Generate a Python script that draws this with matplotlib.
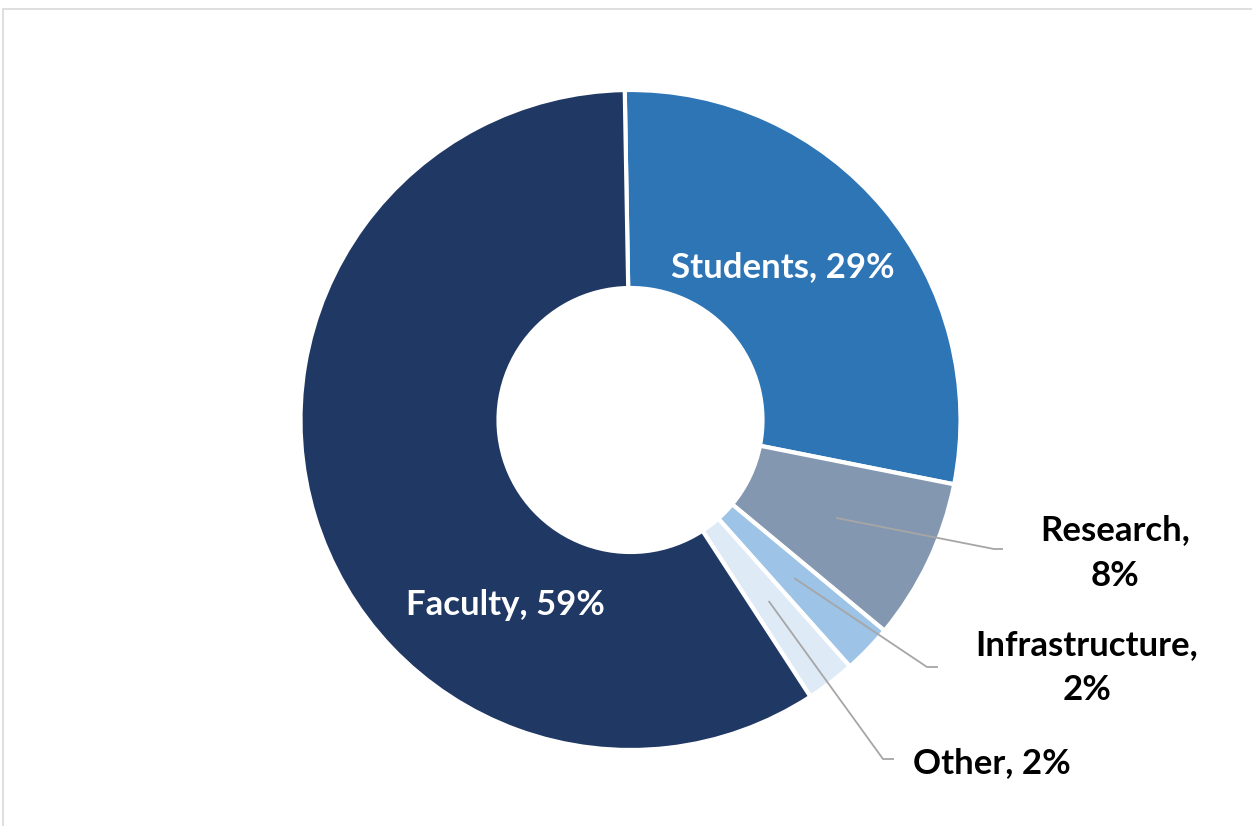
import matplotlib.pyplot as plt
import matplotlib.patches as mpatches
import numpy as np

# ---- data ----
categories = ['Students', 'Research', 'Infrastructure', 'Other', 'Faculty']
shares = [28.4, 7.9, 2.4, 2.4, 58.9]
pct_labels = ['29%', '8%', '2%', '2%', '59%']
colors = ['#2E75B6', '#8497B0', '#9DC3E6', '#DEEBF7', '#203864']

W, H = 1252, 826
fig = plt.figure(figsize=(W / 100, H / 100), dpi=100)
ax = fig.add_axes([0, 0, 1, 1])

# light gray chart frame (runs off right / bottom edge)
fig.patches.append(mpatches.Rectangle((3 / W, -0.05), 1.1, 1 - 9 / H + 0.05,
                                      transform=fig.transFigure, fill=False,
                                      edgecolor='#D9D9D9', linewidth=1.2))

cx, cy, R = 630.5, H - 420, 330
wedges, _ = ax.pie(shares, colors=colors, startangle=91, counterclock=False,
                   radius=R, center=(cx, cy),
                   wedgeprops=dict(width=R * 0.6, edgecolor='white', linewidth=3))

# pie() resets the limits, so set the pixel-like frame afterwards
ax.set_xlim(0, W)
ax.set_ylim(0, H)
ax.set_aspect('equal')
ax.axis('off')

font = dict(family=['Lato', 'DejaVu Sans'], fontweight='bold', fontsize=25)

# inside labels
ax.text(783, H - 267, f'{categories[0]}, {pct_labels[0]}', color='white',
        ha='center', va='center', **font)
ax.text(505, H - 605, f'{categories[4]}, {pct_labels[4]}', color='white',
        ha='center', va='center', **font)

# outside labels with leader lines
outside = {
    1: dict(text=f'{categories[1]},\n{pct_labels[1]}', pos=(1115, 553),
            elbow=(994, 549), end=(1003, 549)),
    2: dict(text=f'{categories[2]},\n{pct_labels[2]}', pos=(1087, 668),
            elbow=(927, 667), end=(938, 667)),
    3: dict(text=f'{categories[3]}, {pct_labels[3]}', pos=(992, 763),
            elbow=(883, 759), end=(894, 759)),
}
for i, o in outside.items():
    w = wedges[i]
    mid = np.deg2rad((w.theta1 + w.theta2) / 2)
    sx, sy = cx + 0.69 * R * np.cos(mid), cy + 0.69 * R * np.sin(mid)
    ex, ey = o['elbow']
    fx, fy = o['end']
    ax.plot([sx, ex, fx], [sy, H - ey, H - fy], color='#A6A6A6', linewidth=1.3,
            solid_capstyle='butt')
    ax.text(o['pos'][0], H - o['pos'][1], o['text'], color='black',
            ha='center', va='center', linespacing=1.5, **font)

plt.savefig('out.png', dpi=100)
